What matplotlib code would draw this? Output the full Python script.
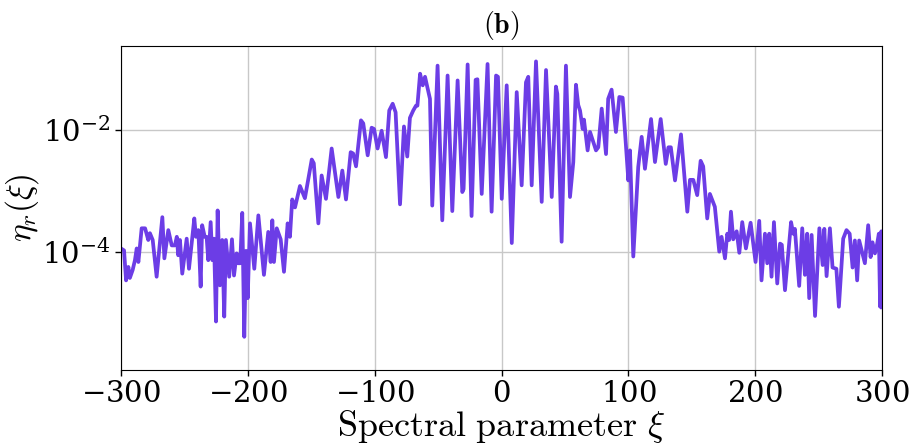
import numpy as np
import matplotlib
matplotlib.use("Agg")
import matplotlib.pyplot as plt

plt.rcParams['mathtext.fontset'] = 'cm'
plt.rcParams['font.family'] = 'serif'
plt.rcParams['font.serif'] = ['DejaVu Serif']
plt.rcParams['axes.formatter.use_mathtext'] = True

# spectral parameter xi and efficiency eta_r(xi)
xi = [-300, -297.6, -296, -294.2, -293, -290.8, -289, -287.6, -286.3, -283.7,
      -281, -278.5, -277.2, -275, -271.9, -267.4, -265.8, -262.7, -260, -257.5,
      -256, -254.9, -253.5, -251.7, -248.2, -246.4, -242.2, -240.9, -239, -237.2,
      -236, -234, -232.5, -231.2, -229.3, -228, -226.7, -225.1, -223.8, -222,
      -220.2, -218.6, -217.3, -214.7, -212.5, -210.9, -208.8, -207.6, -206, -204.4,
      -202.8, -201.4, -200.1, -198.3, -194.9, -191.7, -187.3, -183.9, -182, -180.7,
      -179.4, -177.2, -174.1, -171.5, -168.6, -166.8, -165, -162.8, -158.9, -155,
      -149.6, -148, -144.4, -141.8, -138.4, -133.9, -128.6, -125.5, -122.6, -118.9,
      -117, -114.7, -110.8, -109, -105.5, -102.4, -100.5, -97.7, -94.5, -91.1,
      -88.5, -85.8, -83.5, -80, -76.9, -74.3, -72.2, -69.6, -67.4, -66.3,
      -64.2, -62.1, -60.3, -56.4, -54.6, -50.4, -46.7, -42.5, -38.8, -34.6,
      -30.9, -29.9, -26.7, -23.6, -20.4, -19.0, -15.6, -11.0, -7.8, -4.3,
      -2.8, 0.2, 4.1, 8.1, 12.0, 15.9, 19.3, 21.1, 23.8, 27.2,
      31.7, 35.1, 39.6, 42.9, 44.0, 47.4, 50.8, 54.0, 56.6, 58.7,
      60.5, 61.9, 64.0, 65.0, 67.9, 69.8, 74.5, 76.3, 79.0, 82.4,
      84.1, 86.8, 90.2, 92.9, 95.5, 100.0, 101.3, 103.9, 107.8, 110.5,
      113.1, 117.9, 121.0, 125.5, 129.5, 131.6, 133.5, 136.8, 141.5, 146.5,
      148.6, 151.2, 154.3, 157.0, 159.0, 162.2, 164.3, 168.2, 171.7, 173.5,
      176.2, 178.0, 179.5, 180.9, 182.7, 185.4, 187.5, 189.8, 192.7, 196.4,
      200.3, 203.2, 205.0, 207.7, 209.5, 211.1, 212.9, 214.8, 217.4, 219.6,
      221.0, 223.5, 228.3, 230.0, 231.3, 234.7, 237.1, 239.2, 241.0, 242.6,
      244.5, 247.2, 250.6, 253.2, 254.5, 256.3, 258.9, 261.0, 264.0, 266.0,
      269.4, 272.0, 274.5, 276.8, 278.6, 280.4, 282.0, 284.7, 286.5, 289.1,
      291.0, 292.5, 294.4, 296.2, 297.5, 298.5, 299.5, 300]

eta = [1.15e-4, 1.07e-4, 3.47e-5, 5.75e-5, 3.80e-5, 5.13e-5, 7.41e-5, 1.15e-4, 6.92e-5, 2.45e-4,
       2.45e-4, 1.58e-4, 2.04e-4, 1.58e-4, 3.98e-5, 3.72e-4, 7.94e-5, 2.29e-4, 1.29e-4, 1.29e-4,
       1.78e-4, 8.91e-5, 1.58e-4, 4.47e-5, 1.66e-4, 5.37e-5, 3.55e-4, 1.78e-4, 2.29e-4, 2.75e-5,
       2.75e-4, 1.78e-4, 1.78e-4, 7.41e-5, 3.09e-4, 7.41e-5, 1.66e-4, 7.41e-6, 4.79e-4, 2.88e-5,
       1.58e-4, 8.91e-6, 1.58e-4, 3.98e-5, 1.62e-4, 4.17e-5, 9.55e-5, 6.60e-5, 6.60e-5, 4.37e-4,
       4.17e-6, 1.05e-4, 1.78e-5, 2.95e-4, 5.37e-5, 3.98e-4, 4.27e-5, 2.14e-4, 6.92e-5, 3.31e-4,
       6.92e-5, 2.45e-4, 1.62e-4, 4.79e-5, 2.95e-4, 1.78e-4, 7.24e-4, 5.37e-4, 1.20e-3, 7.59e-4,
       3.24e-3, 2.82e-3, 2.95e-4, 1.78e-3, 7.41e-4, 4.90e-3, 7.94e-4, 2.14e-3, 7.24e-4, 4.27e-3,
       4.07e-3, 2.51e-3, 1.41e-2, 1.26e-2, 3.80e-3, 1.07e-2, 1.02e-2, 4.90e-3, 9.55e-3, 3.55e-3,
       2.04e-2, 2.63e-2, 1.91e-2, 6.03e-4, 1.12e-2, 3.63e-3, 1.55e-2, 2.04e-2, 2.45e-2, 2.45e-2,
       8.13e-2, 5.25e-2, 7.24e-2, 3.16e-2, 5.75e-4, 1.10e-1, 3.31e-4, 7.59e-2, 4.68e-4, 6.31e-2,
       9.55e-4, 1.07e-3, 1.15e-1, 3.89e-4, 6.46e-2, 6.60e-2, 8.91e-4, 1.17e-1, 4.57e-4, 7.59e-2,
       7.24e-2, 7.41e-4, 5.25e-2, 1.41e-4, 4.07e-2, 1.23e-3, 5.89e-2, 7.24e-2, 1.23e-3, 1.29e-1,
       6.61e-4, 9.33e-2, 7.94e-4, 5.01e-2, 3.80e-2, 1.48e-4, 1.10e-1, 7.94e-4, 2.95e-3, 5.37e-2,
       2.51e-2, 2.04e-2, 1.02e-2, 1.45e-2, 4.57e-3, 9.12e-3, 4.57e-3, 5.13e-3, 2.19e-2, 3.98e-3,
       3.16e-2, 4.47e-2, 9.12e-3, 3.39e-2, 3.31e-2, 1.48e-3, 4.57e-3, 8.51e-5, 2.45e-3, 7.59e-3,
       2.29e-3, 1.48e-2, 2.95e-3, 1.48e-2, 2.75e-3, 5.13e-3, 5.13e-3, 1.48e-3, 8.32e-3, 4.57e-4,
       1.51e-3, 1.51e-3, 8.51e-4, 3.09e-3, 2.51e-3, 3.55e-4, 8.91e-4, 5.50e-4, 1.02e-4, 1.78e-4,
       7.94e-5, 2.00e-4, 1.58e-4, 4.57e-4, 1.62e-4, 2.19e-4, 9.77e-5, 3.09e-4, 1.15e-4, 3.02e-4,
       6.92e-5, 3.24e-4, 3.47e-5, 2.00e-4, 6.60e-5, 2.00e-4, 3.98e-5, 3.09e-4, 3.09e-5, 1.38e-4,
       1.32e-4, 2.40e-5, 3.09e-4, 2.00e-4, 2.40e-4, 2.82e-5, 2.45e-4, 4.27e-5, 2.00e-4, 1.78e-5,
       1.91e-4, 9.12e-6, 2.45e-4, 6.17e-5, 2.40e-4, 4.07e-5, 2.45e-4, 5.62e-5, 5.37e-5, 1.29e-5,
       1.66e-4, 2.29e-4, 2.00e-4, 5.62e-5, 1.55e-4, 3.47e-5, 1.55e-4, 9.33e-5, 6.60e-5, 2.75e-4,
       8.32e-5, 1.45e-4, 9.55e-5, 1.38e-4, 2.00e-4, 1.29e-5, 2.19e-4, 1.26e-5]

xticks = [-300, -200, -100, 0, 100, 200, 300]
yticks = [1e-4, 1e-2]

fig = plt.figure(figsize=(9.18, 4.44), dpi=100)
ax = fig.add_axes([0.1318, 0.1667, 0.8290, 0.7297])

ax.plot(xi, eta, color='#6c3de6', lw=2.7, solid_joinstyle='round')
ax.set_yscale('log')
ax.set_xlim(-300, 300)
ax.set_ylim(1.2e-6, 0.23)
ax.set_xticks(xticks)
ax.set_yticks(yticks)
ax.minorticks_off()
ax.yaxis.set_minor_locator(matplotlib.ticker.NullLocator())
ax.grid(True, color='#c8c8c8', lw=1.0)
ax.tick_params(labelsize=21, direction='out', length=4, width=1)

ax.set_xlabel(r'$\mathrm{Spectral\ parameter}\ \xi$', fontsize=26, labelpad=0)
ax.set_ylabel(r'$\eta_r(\xi)$', fontsize=24, labelpad=1)
ax.set_title(r'$\mathbf{(b)}$', fontsize=20, pad=9)

fig.savefig('out.png', dpi=100)
